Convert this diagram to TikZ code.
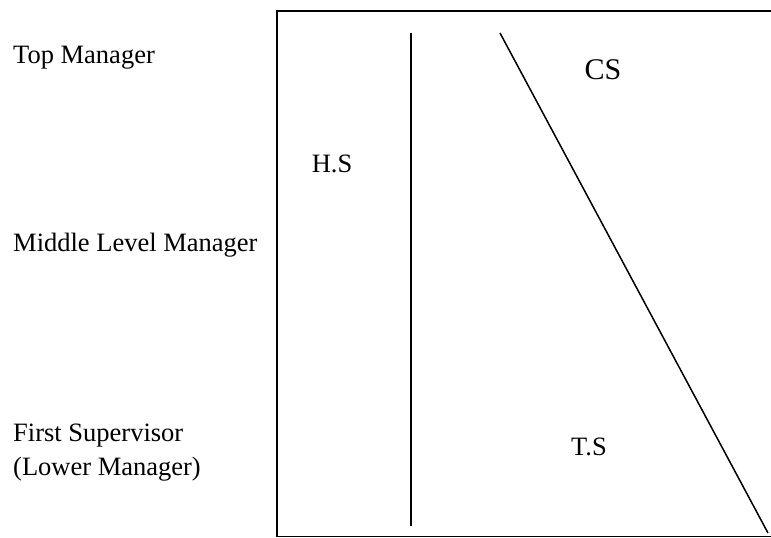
\documentclass[tikz,border=0pt]{standalone}
\usepackage{fontspec}
\setmainfont{Liberation Serif}
\tikzset{
    lvl/.style={anchor=base west, inner sep=0pt, font=\fontsize{26.5}{34}\selectfont, align=left},
    skill/.style={anchor=center, inner sep=0pt, font=\fontsize{26.5}{31}\selectfont},
    edge/.style={line width=1.5pt}
}
\begin{document}
\begin{tikzpicture}[x=1pt, y=-1pt]
    \useasboundingbox (0,0) rectangle (771,538);
    % management levels
    \node[lvl] (top) at (13, 63) {Top Manager};
    \node[lvl] (middle) at (13, 251) {Middle Level Manager};
    \node[lvl] (first) at (13, 475) {First Supervisor\\(Lower Manager)};
    % skills
    \node[skill] (hs) at (332, 164) {H.S};
    \node[skill, font=\fontsize{30}{36}\selectfont] (cs) at (603, 70) {CS};
    \node[skill] (ts) at (589, 447) {T.S};
    % frame and dividers
    \draw[edge] (771, 11) -- (277, 11) -- (277, 536.5) -- (771, 536.5);
    \draw[edge] (411, 33) -- (411, 526);
    \draw[edge] (500, 33) -- (768, 533);
\end{tikzpicture}
\end{document}
